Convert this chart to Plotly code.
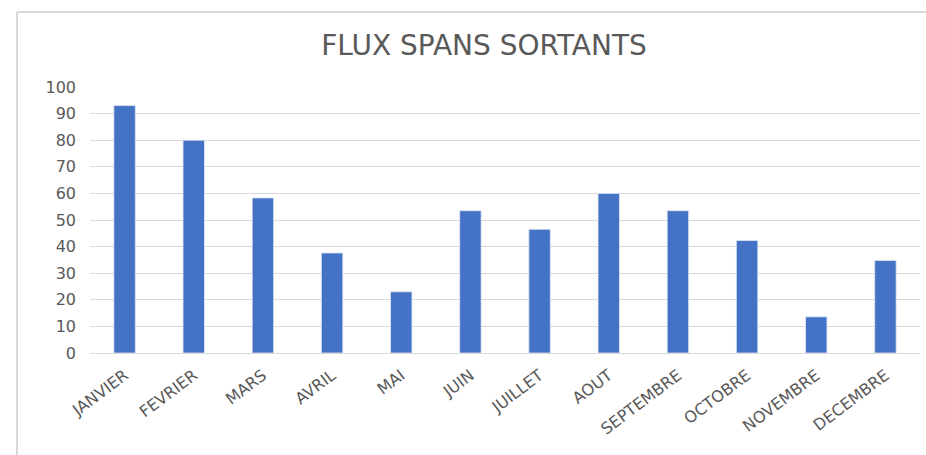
import plotly.graph_objects as go

months = ["JANVIER", "FEVRIER", "MARS", "AVRIL", "MAI", "JUIN", "JUILLET",
          "AOUT", "SEPTEMBRE", "OCTOBRE", "NOVEMBRE", "DECEMBRE"]
values = [93, 80, 58.3, 37.6, 23, 53.5, 46.5, 60, 53.5, 42.3, 13.6, 34.8]
y_ticks = [0, 10, 20, 30, 40, 50, 60, 70, 80, 90, 100]

fig = go.Figure(go.Bar(
    x=months, y=values,
    marker=dict(color="#4472C4", line=dict(color="#dfe6f5", width=0.8)),
))

W, H = 926, 455
L, R, T, B = 90, 6, 87, 102
pw, ph = W - L - R, H - T - B

def px_x(p):
    return (p - L) / pw

def px_y(p):
    return (H - B - p) / ph

fig.update_layout(
    width=W, height=H,
    margin=dict(l=L, r=R, t=T, b=B, pad=0),
    paper_bgcolor="white", plot_bgcolor="white",
    bargap=0.69,
    showlegend=False,
    title=dict(text="FLUX SPANS SORTANTS", x=484 / W, xanchor="center",
               y=1 - 45 / H, yanchor="middle",
               font=dict(family="DejaVu Sans", size=28, color="#595959")),
    font=dict(family="DejaVu Sans", color="#595959"),
    xaxis=dict(tickangle=-37, tickfont=dict(size=16, color="#595959"),
               showgrid=False, showline=True, linecolor="#D9D9D9", linewidth=1,
               ticks="", range=[-0.5, 11.5], automargin=False, ticklabelstandoff=6),
    yaxis=dict(range=[0, 100], tickvals=y_ticks,
               tickfont=dict(size=16, color="#595959"),
               showgrid=True, gridcolor="#D9D9D9", gridwidth=1, zeroline=False,
               showline=False, ticks="", ticklabelstandoff=13, automargin=False),
    shapes=[
        dict(type="line", xref="paper", yref="paper",
             x0=px_x(17), x1=px_x(W + 5), y0=px_y(12), y1=px_y(12),
             line=dict(color="#D9D9D9", width=2), layer="below"),
        dict(type="line", xref="paper", yref="paper",
             x0=px_x(17), x1=px_x(17), y0=px_y(12), y1=px_y(H + 10),
             line=dict(color="#D9D9D9", width=2), layer="below"),
    ],
)

fig.write_html(
    "out.html",
    config={"displayModeBar": False},
    post_script="document.body.style.margin='0';document.body.style.overflow='hidden';",
)
